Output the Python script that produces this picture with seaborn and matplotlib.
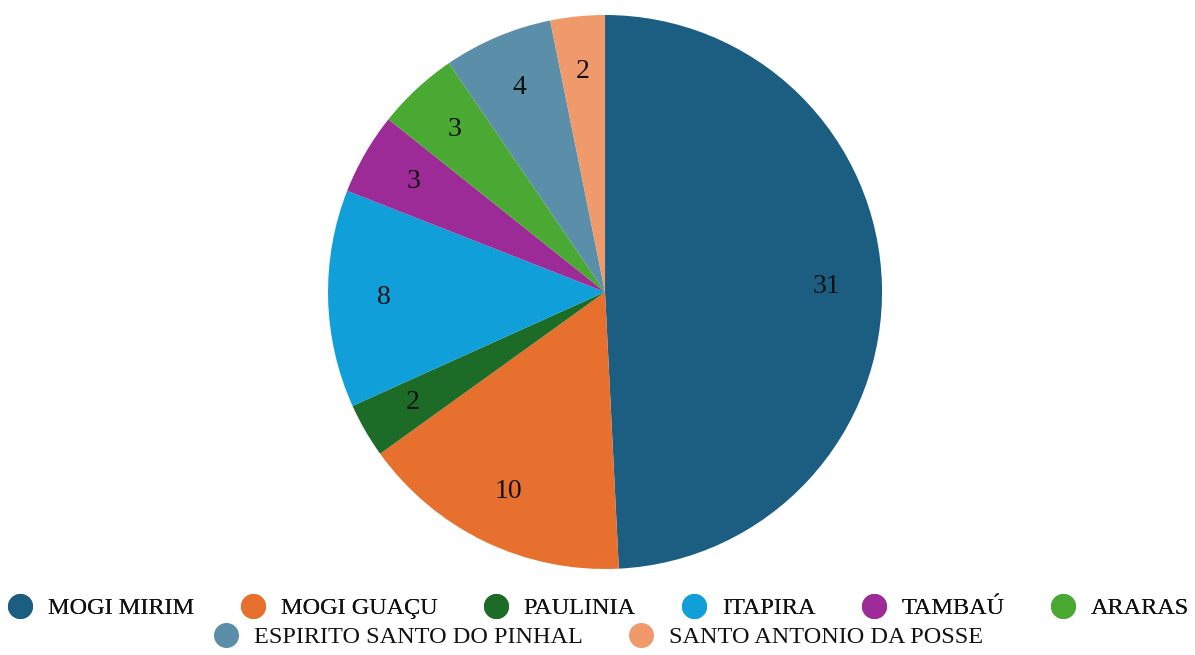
import matplotlib.pyplot as plt
import seaborn as sns
from matplotlib.lines import Line2D

# dados
cidades = ["MOGI MIRIM", "MOGI GUAÇU", "PAULINIA", "ITAPIRA", "TAMBAÚ",
           "ARARAS", "ESPIRITO SANTO DO PINHAL", "SANTO ANTONIO DA POSSE"]
valores = [31, 10, 2, 8, 3, 3, 4, 2]
cores = ["#1b5e82", "#e8702f", "#1c6b27", "#109fd9", "#9c2a97",
         "#4aa933", "#5b8ea9", "#f09a6c"]

sns.set_theme(style="white")
plt.rcParams['font.family'] = ['Liberation Serif', 'DejaVu Serif']
plt.rcParams['text.color'] = '#111111'

fig = plt.figure(figsize=(11.95, 6.55), dpi=100)
ax = fig.add_axes([0.2745, 0.1313, 0.4636, 0.8458])

total = sum(valores)
wedges, textos, autotextos = ax.pie(
    valores, colors=sns.color_palette(cores), startangle=90, counterclock=False,
    autopct=lambda p: f"{round(p * total / 100):d}", pctdistance=0.8,
    wedgeprops={'linewidth': 0}, textprops={'fontsize': 20, 'color': '#111111'})
ax.set_xlim(-1, 1)
ax.set_ylim(-1, 1)
ax.set_aspect('equal')

def handle(c):
    return Line2D([], [], marker='o', linestyle='', markersize=17,
                  markerfacecolor=c, markeredgecolor=c)

# legenda em duas linhas centralizadas
opts = dict(loc='center', frameon=False, fontsize=17.5, handlelength=1.2,
            handletextpad=0.55, columnspacing=1.8, labelcolor='#111111')
leg1 = fig.legend([handle(c) for c in cores[:6]], cidades[:6], ncol=6,
                  bbox_to_anchor=(0.5, 1 - 608 / 655), **opts)
fig.add_artist(leg1)
fig.legend([handle(c) for c in cores[6:]], cidades[6:], ncol=2,
           bbox_to_anchor=(0.5, 1 - 637 / 655), **opts)

fig.savefig("out.png", dpi=100)
